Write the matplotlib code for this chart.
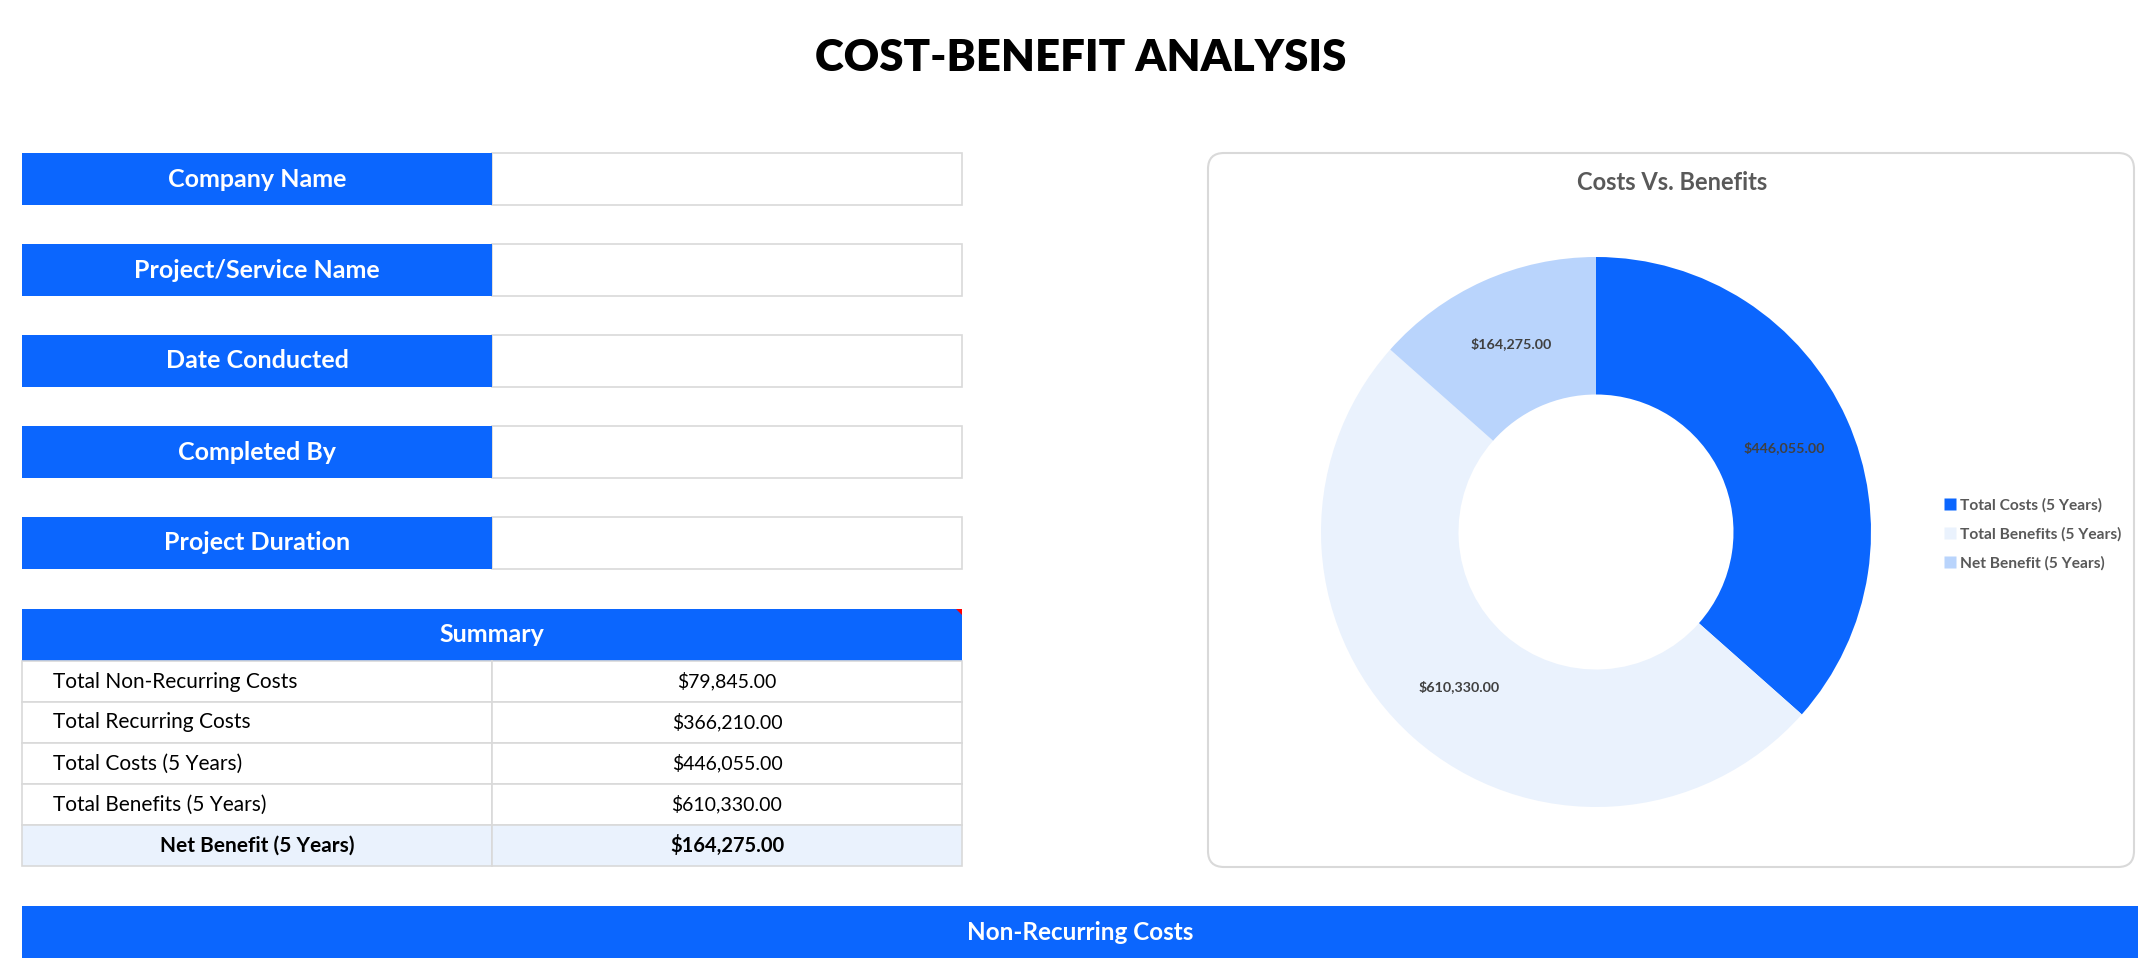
import matplotlib
matplotlib.use("Agg")
import matplotlib.pyplot as plt
import numpy as np
from matplotlib.patches import Rectangle, FancyBboxPatch, Polygon
from matplotlib.lines import Line2D

plt.rcParams["font.family"] = ["Lato", "DejaVu Sans"]

# ── data ──────────────────────────────────────────────────────────────────
title = "COST-BENEFIT ANALYSIS"
form_labels = ["Company Name", "Project/Service Name", "Date Conducted",
               "Completed By", "Project Duration"]
summary_labels = ["Total Non-Recurring Costs", "Total Recurring Costs",
                  "Total Costs (5 Years)", "Total Benefits (5 Years)",
                  "Net Benefit (5 Years)"]
summary_values = [79845.00, 366210.00, 446055.00, 610330.00, 164275.00]
chart_title = "Costs Vs. Benefits"
chart_labels = ["Total Costs (5 Years)", "Total Benefits (5 Years)", "Net Benefit (5 Years)"]
chart_values = [446055.00, 610330.00, 164275.00]
section_title = "Non-Recurring Costs"

BLUE = "#0B66FE"
LIGHT = "#EAF2FD"
MID = "#B9D4FC"
GRID = "#D9D9D9"
chart_colors = [BLUE, LIGHT, MID]

W, H = 2138, 958
fig = plt.figure(figsize=(W / 100, H / 100), dpi=100)
fig.patch.set_facecolor("white")

# page axes in pixel coordinates (y down)
page = fig.add_axes([0, 0, 1, 1])
page.set_xlim(0, W)
page.set_ylim(H, 0)
page.axis("off")

page.text(1081, 58, title, ha="center", va="center", fontsize=31.5,
          fontweight="heavy", color="black")

# ── form rows ─────────────────────────────────────────────────────────────
x0, xm, x1 = 22, 492, 962
row_top = [153, 244, 335, 426, 517]
row_h = 52
for label, top in zip(form_labels, row_top):
    page.add_patch(Rectangle((xm, top), x1 - xm, row_h, facecolor="white",
                             edgecolor=GRID, linewidth=1.2))
    page.add_patch(Rectangle((x0, top), xm - x0, row_h, facecolor=BLUE,
                             edgecolor="none"))
    page.text((x0 + xm) / 2, top + row_h / 2, label, ha="center", va="center",
              fontsize=18, fontweight="bold", color="white")

# ── summary table ─────────────────────────────────────────────────────────
hdr_top, hdr_bot = 609, 661
page.add_patch(Rectangle((x0, hdr_top), x1 - x0, hdr_bot - hdr_top,
                         facecolor=BLUE, edgecolor="none"))
page.text((x0 + x1) / 2, (hdr_top + hdr_bot) / 2, "Summary", ha="center",
          va="center", fontsize=18, fontweight="bold", color="white")
page.add_patch(Polygon([(x1 - 6, hdr_top), (x1, hdr_top), (x1, hdr_top + 6)],
                       closed=True, facecolor="red", edgecolor="none"))

rh = 41
for i, (lab, val) in enumerate(zip(summary_labels, summary_values)):
    top = hdr_bot + i * rh
    last = i == len(summary_labels) - 1
    fc = LIGHT if last else "white"
    for xa, xb in ((x0, xm), (xm, x1)):
        page.add_patch(Rectangle((xa, top), xb - xa, rh, facecolor=fc,
                                 edgecolor=GRID, linewidth=1.2))
    txt = f"${val:,.2f}"
    if last:
        page.text((x0 + xm) / 2, top + rh / 2, lab, ha="center", va="center",
                  fontsize=15, fontweight="bold", color="black")
        page.text((xm + x1) / 2, top + rh / 2, txt, ha="center", va="center",
                  fontsize=14.5, fontweight="bold", color="black")
    else:
        page.text(53, top + rh / 2, lab, ha="left", va="center",
                  fontsize=15, color="black")
        page.text((xm + x1) / 2, top + rh / 2, txt, ha="center", va="center",
                  fontsize=14, color="black")

# ── chart box ─────────────────────────────────────────────────────────────
page.add_patch(FancyBboxPatch((1208, 153), 2134 - 1208, 867 - 153,
                              boxstyle="round,pad=0,rounding_size=16",
                              facecolor="white", edgecolor=GRID, linewidth=1.5))
page.text(1672, 182, chart_title, ha="center", va="center", fontsize=17,
          fontweight="bold", color="#595959")

cx, cy, r = 1596, 532, 275
ax = fig.add_axes([(cx - r) / W, (H - cy - r) / H, 2 * r / W, 2 * r / H])
wedges, _ = ax.pie(chart_values, colors=chart_colors, startangle=90,
                   counterclock=False, radius=1,
                   wedgeprops=dict(width=0.5, edgecolor="none"))
ax.set_xlim(-1, 1)
ax.set_ylim(-1, 1)
ax.set_aspect("equal")
ax.axis("off")

for w, val in zip(wedges, chart_values):
    mid = np.deg2rad((w.theta1 + w.theta2) / 2)
    ax.text(0.75 * np.cos(mid), 0.75 * np.sin(mid), f"${val:,.2f}",
            ha="center", va="center", fontsize=10.3, fontweight="bold",
            color="#404040")

handles = [Line2D([], [], marker="s", linestyle="none", markersize=8,
                  markerfacecolor=c, markeredgecolor="none") for c in chart_colors]
leg = fig.legend(handles, chart_labels, loc="upper left",
                 bbox_to_anchor=(1938 / W, 1 - 490 / H), frameon=False,
                 fontsize=11.2, handlelength=0.6, handletextpad=0.3,
                 labelspacing=0.95, borderpad=0)
for t in leg.get_texts():
    t.set_color("#595959")
    t.set_fontweight("bold")

# ── section bar ───────────────────────────────────────────────────────────
page.add_patch(Rectangle((x0, 906), W - x0, 60, facecolor=BLUE, edgecolor="none"))
page.text(1080, 932, section_title, ha="center", va="center", fontsize=17.5,
          fontweight="bold", color="white")

fig.savefig("out.png", dpi=100, facecolor="white")
